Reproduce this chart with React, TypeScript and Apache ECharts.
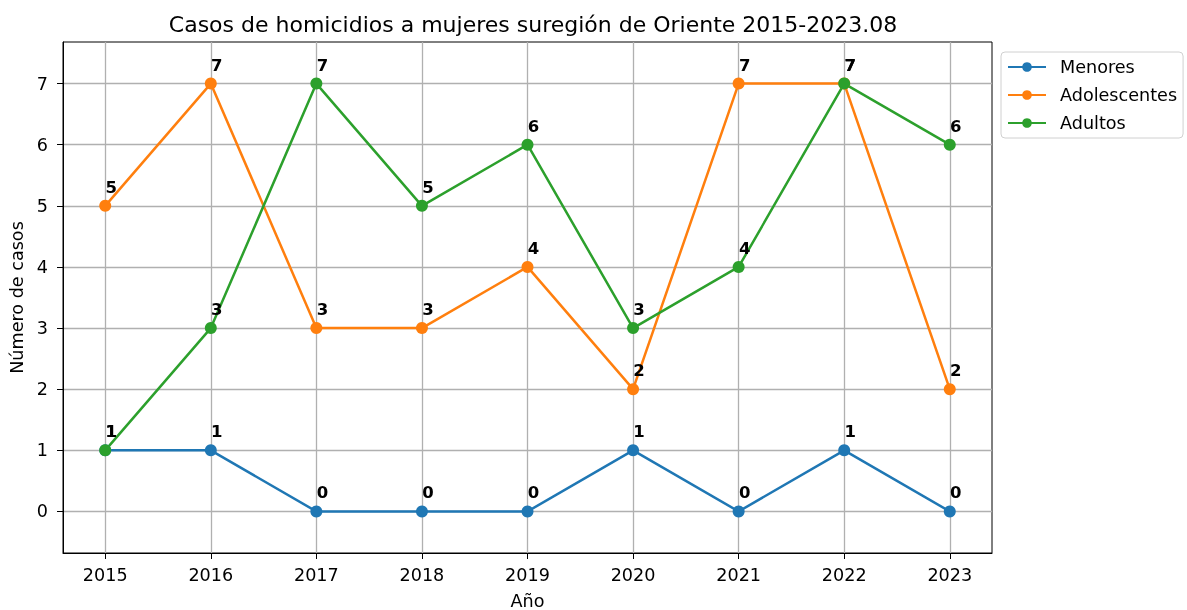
import React, { useEffect, useRef } from "react";
import * as echarts from "echarts";

const years = [2015, 2016, 2017, 2018, 2019, 2020, 2021, 2022, 2023];
const menores = [1, 1, 0, 0, 0, 1, 0, 1, 0];
const adolescentes = [5, 7, 3, 3, 4, 2, 7, 7, 2];
const adultos = [1, 3, 7, 5, 6, 3, 4, 7, 6];
const yTicks = [0, 1, 2, 3, 4, 5, 6, 7];
const seriesNames = ["Menores", "Adolescentes", "Adultos"];
const colors = ["#1f77b4", "#ff7f0e", "#2ca02c"];

const FONT = "DejaVu Sans";
const FS = 17.6;

export default function App() {
  const ref = useRef<HTMLDivElement>(null);
  useEffect(() => {
    if (!ref.current) return;
    const chart = echarts.init(ref.current, undefined, { renderer: "svg" });
    const makeSeries = (name: string, vals: number[], color: string) => ({
      name,
      type: "line",
      data: years.map((y, i) => [y, vals[i]]),
      symbol: "circle",
      symbolSize: 12,
      clip: false,
      z: 3,
      lineStyle: { color, width: 2.5 },
      itemStyle: { color },
      label: {
        show: true,
        position: "top",
        distance: 5,
        offset: [6, 1],
        color: "#000",
        fontWeight: "bold",
        fontFamily: FONT,
        fontSize: 16.5,
      },
      emphasis: { disabled: true },
    });
    chart.setOption({
      animation: false,
      title: {
        text: "Casos de homicidios a mujeres suregión de Oriente 2015-2023.08",
        left: 528,
        textAlign: "center",
        top: 8,
        textStyle: { fontFamily: FONT, fontSize: 22, fontWeight: "normal", color: "#000" },
      },
      legend: {
        data: seriesNames,
        orient: "vertical",
        left: 1001,
        top: 52,
        itemWidth: 38,
        itemHeight: 12,
        itemGap: 10,
        padding: [6, 6, 6, 6],
        borderColor: "#d0d0d0",
        borderWidth: 1,
        borderRadius: 4,
        textStyle: { fontFamily: FONT, fontSize: FS, color: "#000", padding: [0, 0, 0, 9] },
      },
      grid: {
        left: 63,
        top: 42,
        width: 929,
        height: 511,
        containLabel: false,
        outerBoundsMode: "none",
        show: true,
        borderColor: "#000",
        borderWidth: 1,
        backgroundColor: "transparent",
      },
      xAxis: {
        type: "value",
        min: 2014.6,
        max: 2023.4,
        name: "Año",
        nameLocation: "middle",
        nameGap: 39,
        nameTextStyle: { fontFamily: FONT, fontSize: FS, color: "#000" },
        axisLine: { show: true, onZero: false, lineStyle: { color: "#000", width: 1 } },
        axisTick: { show: true, customValues: years, length: 6, lineStyle: { color: "#000" } },
        axisLabel: { customValues: years, margin: 13, fontFamily: FONT, fontSize: FS, color: "#000", formatter: (v: number) => String(v) },
        splitLine: { show: false },
      },
      yAxis: {
        type: "value",
        min: -0.68,
        max: 7.68,
        name: "Número de casos",
        nameLocation: "middle",
        nameGap: 36,
        nameTextStyle: { fontFamily: FONT, fontSize: FS, color: "#000" },
        axisLine: { show: true, onZero: false, lineStyle: { color: "#000", width: 1 } },
        axisTick: { show: true, customValues: yTicks, length: 6, lineStyle: { color: "#000" } },
        axisLabel: { customValues: yTicks, margin: 15, fontFamily: FONT, fontSize: FS, color: "#000", formatter: (v: number) => String(v) },
        splitLine: { show: false },
      },
      series: [
        {
          name: "grid",
          type: "line",
          data: [],
          z: 0,
          silent: true,
          markLine: {
            z: 0,
            silent: true,
            symbol: ["none", "none"],
            label: { show: false },
            lineStyle: { color: "#b0b0b0", width: 1.3, type: "solid" },
            emphasis: { disabled: true },
            data: [...years.map((y) => ({ xAxis: y })), ...yTicks.map((v) => ({ yAxis: v }))],
          },
        },
        makeSeries(seriesNames[0], menores, colors[0]),
        makeSeries(seriesNames[1], adolescentes, colors[1]),
        makeSeries(seriesNames[2], adultos, colors[2]),
      ],
    });
    return () => chart.dispose();
  }, []);
  return <div ref={ref} style={{ position: "fixed", left: 0, top: 0, width: 1187, height: 610 }} />;
}
